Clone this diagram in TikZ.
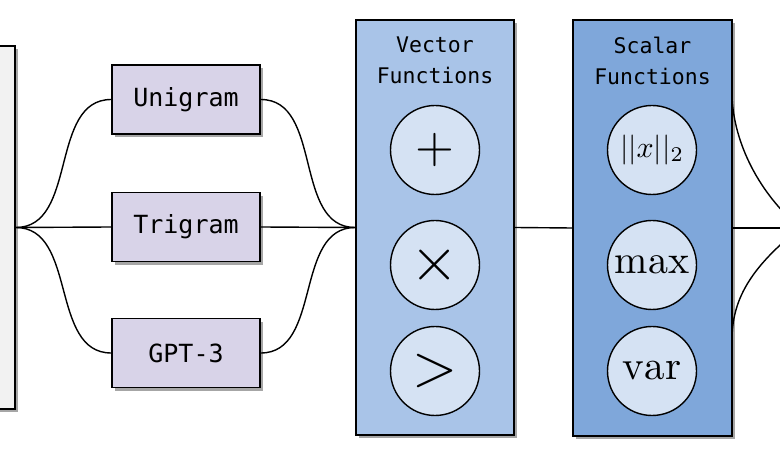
\documentclass[tikz,border=0pt]{standalone}
\usepackage{graphicx}
\usepackage{fontspec}
\newfontfamily\monofont{DejaVu Sans Mono}
\usetikzlibrary{shadows}
\definecolor{leftgray}{HTML}{F2F2F2}
\definecolor{lav}{HTML}{D8D3E8}
\definecolor{vecblue}{HTML}{A9C4E8}
\definecolor{scablue}{HTML}{7FA7DA}
\definecolor{circblue}{HTML}{D5E2F3}
\tikzset{
  shd/.style={drop shadow={shadow xshift=2.5pt,shadow yshift=-3.5pt,opacity=0.35,fill=black}},
  bigbox/.style={draw=black,line width=1.6pt,shd,inner sep=0pt},
  lbox/.style={draw=black,line width=1.6pt,fill=lav,shd,minimum width=148pt,minimum height=69pt,inner sep=0pt,
    font=\monofont\fontsize{25}{25}\selectfont},
  fcirc/.style={circle,draw=black,line width=1.4pt,fill=circblue,minimum size=89pt,inner sep=0pt},
  title/.style={font=\monofont\fontsize{21.5}{31}\selectfont,align=center},
  conn/.style={line width=1.4pt,draw=black},
}
\begin{document}
\begin{tikzpicture}[x=1pt,y=-1pt]
\useasboundingbox (0,0) rectangle (780,470);
\clip (0,0) rectangle (780,470);
% left box
\node[bigbox,fill=leftgray,minimum width=130pt,minimum height=363pt] (src) at (-50,227.5) {};
% label boxes
\node[lbox] (uni) at (186,99.5) {Unigram};
\node[lbox] (tri) at (186,227) {Trigram};
\node[lbox] (gpt) at (186,353) {GPT-3};
% vector box
\node[bigbox,fill=vecblue,minimum width=158pt,minimum height=415pt] (vec) at (435,227.5) {};
\node[title] (vect) at (435,60) {Vector\\Functions};
\node[fcirc] (plus) at (435,150) {\scalebox{5}{$+$}};
\node[fcirc] (times) at (435,265) {\scalebox{6.2}{$\times$}};
\node[fcirc] (gt) at (435,371) {\scalebox{5.8}{$>$}};
% scalar box
\node[bigbox,fill=scablue,minimum width=159pt,minimum height=416pt] (sca) at (652.5,228) {};
\node[title] (scat) at (652.5,61) {Scalar\\Functions};
\node[fcirc] (norm) at (652,150) {\scalebox{3}{$||x||_2$}};
\node[fcirc] (maxc) at (652,265) {\scalebox{4}{$\max$}};
\node[fcirc] (varc) at (652,371) {\scalebox{4.1}{$\mathrm{var}$}};
% connectors
\draw[conn] (src.east) to[out=0,in=180] (uni.west);
\draw[conn] (src.east) -- (tri.west);
\draw[conn] (src.east) to[out=0,in=180] (gpt.west);
\draw[conn] (uni.east) to[out=0,in=180] (vec.west);
\draw[conn] (tri.east) -- (vec.west);
\draw[conn] (gpt.east) to[out=0,in=180] (vec.west);
\draw[conn] (vec.east) -- (sca.west);
\coordinate (nxt) at (800,228);
\coordinate (st) at (732,93);
\coordinate (sb) at (732,340);
\draw[conn] (st) .. controls (732,130) and (750,185) .. (nxt);
\draw[conn] (sb) .. controls (732,300) and (750,268) .. (nxt);
\draw[conn] (sca.east) -- (nxt);
\end{tikzpicture}
\end{document}
